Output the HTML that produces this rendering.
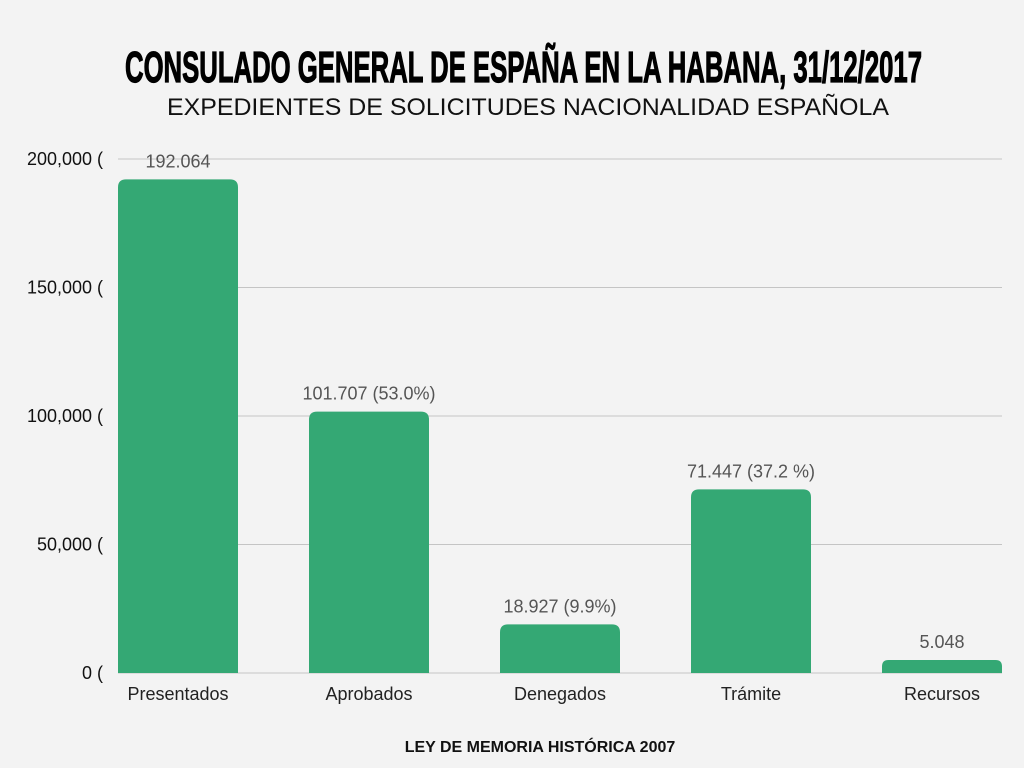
<!DOCTYPE html>
<html><head><meta charset="utf-8"><style>
html,body{margin:0;padding:0;background:#f3f3f3;}
svg{display:block;font-family:"Liberation Sans",sans-serif;}
</style></head><body>
<svg id="chart" width="1024" height="768" viewBox="0 0 1024 768">
<rect width="1024" height="768" fill="#f3f3f3"/>
<text x="125" y="82" font-size="44" font-weight="bold" fill="#000" stroke="#000" stroke-width="1.2" textLength="797" lengthAdjust="spacingAndGlyphs">CONSULADO GENERAL DE ESPAÑA EN LA HABANA, 31/12/2017</text>
<text x="167" y="115" font-size="24" fill="#111" textLength="722" lengthAdjust="spacingAndGlyphs">EXPEDIENTES DE SOLICITUDES NACIONALIDAD ESPAÑOLA</text>
<g id="grid"></g><g id="bars"></g><g id="labels"></g>
<text x="540" y="752" font-size="16" font-weight="bold" fill="#111" text-anchor="middle">LEY DE MEMORIA HISTÓRICA 2007</text>
</svg>
<script>
const categories=["Presentados","Aprobados","Denegados","Trámite","Recursos"];
const values=[192064,101707,18927,71447,5048];
const valueLabels=["192.064","101.707 (53.0%)","18.927 (9.9%)","71.447 (37.2 %)","5.048"];
const ticks=[0,50000,100000,150000,200000];
const tickLabels=["0 (","50,000 (","100,000 (","150,000 (","200,000 ("];
const NS="http://www.w3.org/2000/svg";
const y0=673,yTop=159,maxV=200000,x0=118,step=191,bw=120;
const y=v=>y0-(v/maxV)*(y0-yTop);
const x=i=>x0+i*step;
function mk(t,a,p){const e=document.createElementNS(NS,t);for(const k in a)e.setAttribute(k,a[k]);p.appendChild(e);return e;}
const grid=document.getElementById('grid'),bars=document.getElementById('bars'),labels=document.getElementById('labels');
ticks.forEach((t,i)=>{
 const l=mk('line',{x1:118,x2:1002,y1:y(t),y2:y(t),stroke:'#c4c4c4','stroke-width':1},grid);
 
 
 const tx=mk('text',{x:103,y:y(t)+6,'font-size':18,fill:'#111','text-anchor':'end'},grid);
 tx.textContent=tickLabels[i];
 
 
});
values.forEach((v,i)=>{
 const top=y(v),h=y0-top,r=Math.min(8,h/2),L=x(i),R=L+bw;
 const p=mk('path',{d:`M${L},${y0}V${top+r}Q${L},${top} ${L+r},${top}H${R-r}Q${R},${top} ${R},${top+r}V${y0}Z`,fill:'#34a874'},bars);
 
 
 const vl=mk('text',{x:L+bw/2,y:top-12,'font-size':18,fill:'#555','text-anchor':'middle'},labels);
 vl.textContent=valueLabels[i];
 
 
 const cl=mk('text',{x:L+bw/2,y:700,'font-size':18,fill:'#222','text-anchor':'middle'},labels);
 cl.textContent=categories[i];
 
 
});
</script>
</body></html>
